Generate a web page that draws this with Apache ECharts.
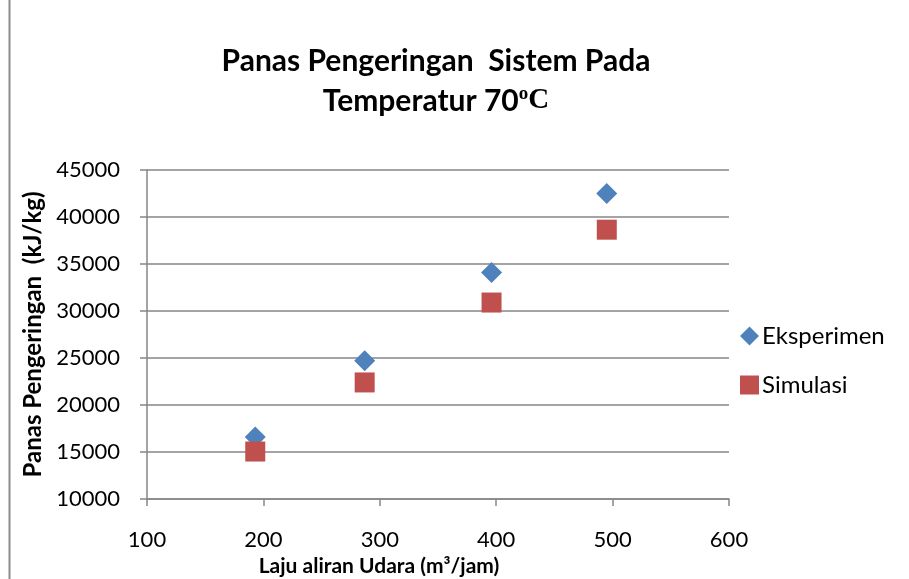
<!DOCTYPE html>
<html>
<head>
<meta charset="utf-8">
<script src="https://cdn.jsdelivr.net/npm/echarts@6/dist/echarts.min.js"></script>
<style>
html,body{margin:0;padding:0;background:#fff;}
#chart{width:909px;height:579px;}
</style>
</head>
<body>
<div id="chart"></div>
<script>
const laju = [193, 287, 396, 495];
const eksperimen = [16600, 24700, 34100, 42500];
const simulasi = [15050, 22400, 30900, 38650];
const seriesNames = ['Eksperimen', 'Simulasi'];

const chart = echarts.init(document.getElementById('chart'));
const font = 'Lato, "Open Sans", sans-serif';
chart.setOption({
  animation: false,
  backgroundColor: '#ffffff',
  title: {
    left: 431, top: 36, textAlign: 'center',
    text: '{t|Panas Pengeringan  Sistem Pada}\n{t|Temperatur 70}{s|o}{c|C}',
    textStyle: {
      rich: {
        t: {fontFamily: font, fontWeight: 'bold', fontSize: 30, color: '#000', lineHeight: 40},
        s: {fontFamily: '"Liberation Serif", serif', fontSize: 19, color: '#000', lineHeight: 40, padding:[0,0,14,0]},
        c: {fontFamily: '"Liberation Serif", serif', fontSize: 29, color: '#000', lineHeight: 40}
      }
    }
  },
  grid: {left: 147, right: 180, top: 170, bottom: 80, outerBoundsMode: 'none', containLabel: false},
  legend: {
    orient: 'vertical', left: 735, top: 319, itemGap: 25,
    itemWidth: 19, itemHeight: 19,
    textStyle: {fontFamily: font, fontSize: 24, color: '#000', lineHeight: 22, padding:[0,0,0,-2]},
    data: [
      {name: seriesNames[0], icon: 'diamond'},
      {name: seriesNames[1], icon: 'rect'}
    ]
  },
  xAxis: {
    type: 'value', min: 100, max: 600, interval: 100,
    name: 'Laju aliran Udara (m³/jam)', nameLocation: 'middle', nameGap: 50,
    nameTextStyle: {fontFamily: font, fontWeight: 'bold', fontSize: 21, color: '#000', padding: [0, 118, 0, 0]},
    axisLine: {show: true, lineStyle: {color: '#868686', width: 1.5}},
    axisTick: {show: true, length: 7, lineStyle: {color: '#868686', width: 1.5}},
    axisLabel: {fontFamily: font, fontSize: 22, color: '#000', margin: 30, formatter: v => String(v)},
    splitLine: {show: false}
  },
  yAxis: {
    type: 'value', min: 10000, max: 45000, interval: 5000,
    name: 'Panas Pengeringan  (kJ/kg)', nameLocation: 'middle', nameGap: 99,
    nameTextStyle: {fontFamily: font, fontWeight: 'bold', fontSize: 24, color: '#000'},
    axisLine: {show: true, lineStyle: {color: '#868686', width: 1.5}},
    axisTick: {show: true, length: 7, lineStyle: {color: '#868686', width: 1.5}},
    axisLabel: {fontFamily: font, fontSize: 22, color: '#000', margin: 27, formatter: v => String(v)},
    splitLine: {show: true, lineStyle: {color: '#868686', width: 1.5}}
  },
  graphic: [
    {type: 'line', shape: {x1: 9.5, y1: 0, x2: 9.5, y2: 579}, style: {stroke: '#8c8c8c', lineWidth: 2}}
  ],
  series: [
    {
      name: seriesNames[0], type: 'scatter', symbol: 'diamond', symbolSize: 21,
      itemStyle: {color: '#4F81BD', opacity: 1},
      data: laju.map((x, i) => [x, eksperimen[i]])
    },
    {
      name: seriesNames[1], type: 'scatter', symbol: 'rect', symbolSize: 20,
      itemStyle: {color: '#C0504D', opacity: 1},
      data: laju.map((x, i) => [x, simulasi[i]])
    }
  ]
});
</script>
</body>
</html>
